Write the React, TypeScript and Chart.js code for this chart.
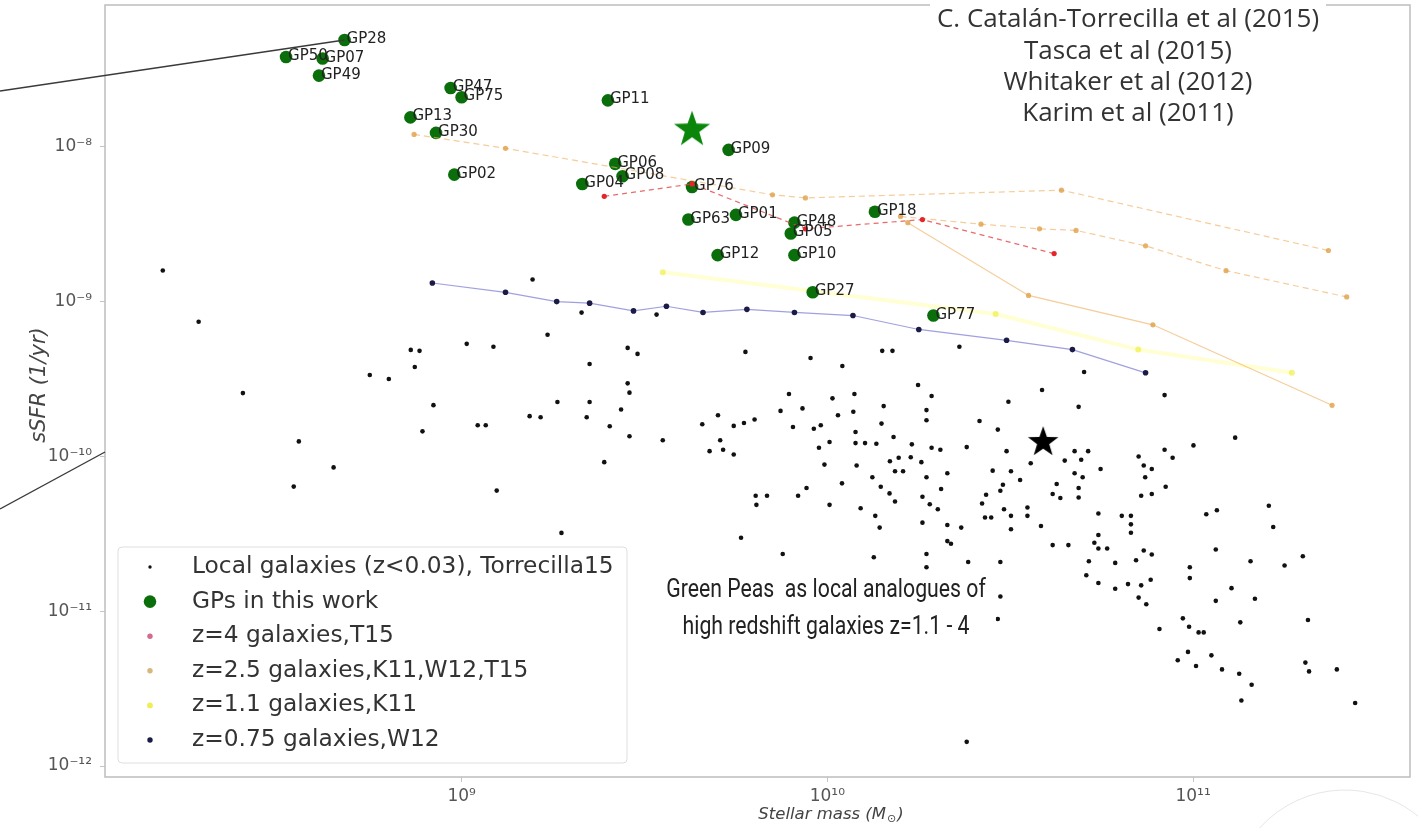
import React, { useEffect, useRef } from "react";
import { Chart, registerables } from "chart.js";

Chart.register(...registerables);

// ---------- axes (values are log10 of the physical quantities) ----------
const xMin = 8.025;
const xMax = 11.593;
const yMin = -12.071;
const yMax = -7.084;
const xTickValues = [9, 10, 11];
const xTickLabels = ["10⁹", "10¹⁰", "10¹¹"];
const yTickValues = [-12, -11, -10, -9, -8];
const yTickLabels = ["10⁻¹²", "10⁻¹¹", "10⁻¹⁰", "10⁻⁹", "10⁻⁸"];

// ---------- Green Peas (log10 M*, log10 sSFR) ----------
const gpNames = ["GP28", "GP50", "GP07", "GP49", "GP47", "GP75", "GP13", "GP30", "GP02", "GP11", "GP09", "GP06", "GP08", "GP04", "GP76", "GP63", "GP01", "GP48", "GP05", "GP12", "GP10", "GP18", "GP27", "GP77"];
const gpLogMass = [8.68, 8.52, 8.62, 8.61, 8.97, 9.0, 8.86, 8.93, 8.98, 9.4, 9.73, 9.42, 9.44, 9.33, 9.63, 9.62, 9.75, 9.91, 9.9, 9.7, 9.91, 10.13, 9.96, 10.29];
const gpLogSSFR = [-7.31, -7.42, -7.43, -7.54, -7.62, -7.68, -7.81, -7.91, -8.18, -7.7, -8.02, -8.11, -8.19, -8.24, -8.26, -8.47, -8.44, -8.49, -8.56, -8.7, -8.7, -8.42, -8.94, -9.09];

// stars
const greenStarLogMass = [9.63];
const greenStarLogSSFR = [-7.88];
const blackStarLogMass = [10.59];
const blackStarLogSSFR = [-9.9];

// z=4 galaxies (Tasca 2015)
const z4LogMass = [9.39, 9.63, 9.94, 10.26, 10.62];
const z4LogSSFR = [-8.32, -8.24, -8.53, -8.47, -8.69];

// z=2.5 galaxies (three relations)
const z25aLogMass = [8.87, 9.12, 9.85, 9.94, 10.64, 11.37];
const z25aLogSSFR = [-7.92, -8.01, -8.31, -8.33, -8.28, -8.67];
const z25bLogMass = [10.2, 10.42, 10.58, 10.68, 10.87, 11.09, 11.42];
const z25bLogSSFR = [-8.45, -8.5, -8.53, -8.54, -8.64, -8.8, -8.97];
const z25cLogMass = [10.22, 10.55, 10.89, 11.38];
const z25cLogSSFR = [-8.49, -8.96, -9.15, -9.67];

// z=1.1 galaxies (Karim 2011)
const z11LogMass = [9.55, 10.46, 10.85, 11.27];
const z11LogSSFR = [-8.81, -9.08, -9.31, -9.46];

// z=0.75 galaxies (Whitaker 2012)
const z075LogMass = [8.92, 9.12, 9.26, 9.35, 9.47, 9.56, 9.66, 9.78, 9.91, 10.07, 10.25, 10.49, 10.67, 10.87];
const z075LogSSFR = [-8.88, -8.94, -9.0, -9.01, -9.06, -9.03, -9.07, -9.05, -9.07, -9.09, -9.18, -9.25, -9.31, -9.46];

// local galaxies (log10 M*, log10 sSFR)
const localGalaxies: [number, number][] = [
  [8.183, -8.799], [8.281, -9.13], [8.402, -9.591], [8.555, -9.903], [8.541, -10.195], [8.65, -10.071],
  [8.749, -9.474], [8.801, -9.5], [8.861, -9.312], [8.885, -9.318], [8.872, -9.422], [8.923, -9.669],
  [8.893, -9.838], [9.014, -9.273], [9.044, -9.799], [9.066, -9.799], [9.087, -9.292], [9.096, -10.221],
  [9.186, -9.74], [9.216, -9.747], [9.235, -9.214], [9.262, -9.649], [9.273, -10.494], [9.328, -9.071],
  [9.35, -9.649], [9.35, -9.403], [9.342, -9.747], [9.454, -9.299], [9.481, -9.338], [9.533, -9.084],
  [9.194, -8.857], [9.776, -9.325], [9.954, -9.364], [10.041, -9.416], [10.15, -9.318], [10.178, -9.318],
  [10.361, -9.292], [10.702, -9.455],
  [9.454, -9.528], [9.459, -9.588], [9.436, -9.697], [9.405, -9.805], [9.459, -9.87], [9.55, -9.896],
  [9.39, -10.037], [10.248, -9.539], [10.285, -9.61], [10.271, -9.701], [10.271, -9.766], [10.154, -9.675],
  [10.074, -9.597], [10.014, -9.625], [10.071, -9.712], [10.029, -9.734], [9.932, -9.69], [9.872, -9.706],
  [9.895, -9.597], [9.801, -9.762], [9.772, -9.784], [9.744, -9.803], [9.701, -9.734], [9.658, -9.792],
  [9.707, -9.896], [9.678, -9.966], [9.715, -9.957], [9.744, -9.988], [9.906, -9.81], [9.963, -9.821],
  [9.982, -9.799], [10.006, -9.907], [9.977, -9.944], [9.992, -10.053], [10.077, -9.842], [10.077, -9.914],
  [10.103, -9.914], [10.134, -9.918], [10.181, -9.875], [10.231, -9.922], [10.285, -9.944], [10.309, -9.957],
  [10.381, -9.94], [10.171, -10.031], [10.195, -10.009], [10.228, -10.005], [10.257, -10.037], [10.148, -9.788],
  [10.416, -9.771], [10.466, -9.827], [10.495, -9.647], [10.587, -9.571], [10.687, -9.68], [10.922, -9.604],
  [11.115, -9.879], [11.001, -9.929], [10.922, -9.957], [10.944, -10.009], [10.851, -10.001], [10.865, -10.059],
  [10.887, -10.081], [10.869, -10.135], [10.676, -9.966], [10.713, -9.966], [10.694, -10.022], [10.649, -10.027],
  [10.747, -10.081], [10.556, -10.044], [10.49, -9.966], [10.676, -10.109], [10.698, -10.135], [10.08, -10.059],
  [10.123, -10.135], [10.185, -10.096], [10.207, -10.096], [10.271, -10.135], [10.328, -10.109], [10.452, -10.092],
  [10.502, -10.096], [10.527, -10.152], [10.04, -10.174], [9.943, -10.204], [9.92, -10.254], [9.804, -10.254],
  [9.835, -10.254], [9.806, -10.313], [10.006, -10.313], [10.091, -10.335], [10.146, -10.196], [10.17, -10.239],
  [10.185, -10.291], [10.26, -10.261], [10.28, -10.309], [10.302, -10.341], [10.311, -10.211], [10.423, -10.304],
  [10.434, -10.248], [10.483, -10.341], [10.502, -10.384], [10.547, -10.33], [10.547, -10.384], [10.48, -10.183],
  [10.473, -10.222], [10.616, -10.243], [10.637, -10.269], [10.627, -10.178], [10.687, -10.204], [10.687, -10.265],
  [10.858, -10.254], [10.887, -10.243], [10.925, -10.196], [10.741, -10.369], [10.805, -10.384], [10.83, -10.384],
  [10.83, -10.439], [10.83, -10.493], [10.741, -10.508], [10.131, -10.384], [10.143, -10.46], [10.26, -10.428],
  [10.328, -10.443], [10.366, -10.46], [10.431, -10.395], [10.448, -10.395], [10.502, -10.471], [10.584, -10.45],
  [11.036, -10.374], [11.065, -10.348], [11.207, -10.319], [11.219, -10.456], [9.764, -10.525], [9.878, -10.63],
  [10.127, -10.651], [10.271, -10.63], [10.271, -10.716], [10.328, -10.547], [10.338, -10.564], [10.385, -10.682],
  [10.473, -10.682], [10.616, -10.573], [10.659, -10.573], [10.73, -10.558], [10.741, -10.595], [10.765, -10.595],
  [10.715, -10.677], [10.787, -10.688], [10.844, -10.671], [10.865, -10.608], [10.887, -10.634], [10.991, -10.716],
  [10.991, -10.786], [11.062, -10.601], [11.157, -10.677], [11.25, -10.705], [11.3, -10.645], [10.708, -10.768],
  [10.741, -10.818], [10.787, -10.855], [10.822, -10.825], [10.858, -10.833], [10.884, -10.797], [10.851, -10.912],
  [10.872, -10.955], [11.105, -10.851], [11.062, -10.933], [11.169, -10.92], [10.473, -10.905], [9.675, -10.985],
  [10.466, -11.05], [10.163, -11.068], [10.291, -11.079], [11.129, -11.072], [10.972, -11.046], [10.989, -11.1],
  [11.015, -11.137], [11.029, -11.137], [10.908, -11.115], [11.314, -11.057], [10.958, -11.317], [10.986, -11.263],
  [11.008, -11.354], [11.05, -11.285], [11.079, -11.376], [11.126, -11.404], [11.16, -11.475], [11.307, -11.332],
  [11.317, -11.389], [11.393, -11.376], [11.132, -11.577], [11.443, -11.593], [10.381, -11.844],
];

const legendLabels = [
  "Local galaxies (z<0.03), Torrecilla15",
  "GPs in this work",
  "z=4 galaxies,T15",
  "z=2.5 galaxies,K11,W12,T15",
  "z=1.1 galaxies,K11",
  "z=0.75 galaxies,W12",
];
const referenceLines = ["C. Catalán-Torrecilla et al (2015)", "Tasca et al (2015)", "Whitaker et al (2012)", "Karim et al (2011)"];
const noteLines = ["Green Peas  as local analogues of", "high redshift galaxies z=1.1 - 4"];

// ---------- styles ----------
const C_LOCAL = "#111111";
const C_GP = "#0a6f0a";
const C_GREEN_STAR = "#0b860b";
const C_Z4 = "#e2262b";
const C_Z4_LINE = "rgba(226,70,70,0.8)";
const C_Z25 = "rgba(224,160,72,0.8)";
const C_Z25_LINE = "rgba(240,178,100,0.65)";
const C_Z11 = "rgba(238,238,60,0.65)";
const C_Z11_LINE = "rgba(255,255,110,0.3)";
const C_Z075 = "#1b1b47";
const C_Z075_LINE = "rgba(120,120,210,0.7)";
const legendColors = [C_LOCAL, C_GP, "rgba(200,70,110,0.8)", "rgba(210,175,110,0.9)", "rgba(236,236,70,0.9)", C_Z075];
const legendRadii = [1.7, 6.3, 2.7, 2.7, 2.9, 2.7];

const FONT = '"DejaVu Sans", sans-serif';

function makeStar(size: number, color: string): HTMLCanvasElement {
  const c = document.createElement("canvas");
  c.width = size;
  c.height = size;
  const g = c.getContext("2d")!;
  const cx = size / 2;
  const cy = size / 2 + size * 0.04;
  const R = size / 2;
  const r = R * 0.4;
  g.beginPath();
  for (let i = 0; i < 10; i++) {
    const a = -Math.PI / 2 + (i * Math.PI) / 5;
    const rad = i % 2 === 0 ? R : r;
    g.lineTo(cx + rad * Math.cos(a), cy + rad * Math.sin(a));
  }
  g.closePath();
  g.fillStyle = color;
  g.fill();
  return c;
}

const toPts = (ms: number[], ss: number[]) => ms.map((m, i) => ({ x: m, y: ss[i] }));

const overlay = {
  id: "overlay",
  afterDatasetsDraw(chart: any) {
    const { ctx, chartArea: a, scales } = chart;
    const xs = scales.x;
    const ys = scales.y;
    ctx.save();

    // frame
    ctx.strokeStyle = "#bdbdbd";
    ctx.lineWidth = 1.5;
    ctx.strokeRect(a.left, a.top, a.right - a.left, a.bottom - a.top);

    // GP labels
    ctx.font = `15px ${FONT}`;
    ctx.fillStyle = "#222";
    ctx.textAlign = "left";
    ctx.textBaseline = "alphabetic";
    gpNames.forEach((n, i) => {
      ctx.fillText(n, xs.getPixelForValue(gpLogMass[i]) + 2, ys.getPixelForValue(gpLogSSFR[i]) + 3);
    });

    // legend
    const lx = a.left + 13;
    const ly = 547;
    const lw = 509;
    const lh = 216;
    ctx.beginPath();
    (ctx as any).roundRect(lx, ly, lw, lh, 4);
    ctx.fillStyle = "rgba(255,255,255,0.85)";
    ctx.fill();
    ctx.strokeStyle = "#dedede";
    ctx.lineWidth = 1;
    ctx.stroke();
    ctx.font = `23.3px ${FONT}`;
    ctx.textBaseline = "middle";
    legendLabels.forEach((t, i) => {
      const yy = ly + 20 + i * 34.6;
      ctx.beginPath();
      ctx.arc(lx + 32, yy, legendRadii[i], 0, Math.PI * 2);
      ctx.fillStyle = legendColors[i];
      ctx.fill();
      ctx.fillStyle = "#333";
      ctx.fillText(t, lx + 74, yy);
    });

    // reference block (top right)
    ctx.fillStyle = "#fff";
    ctx.fillRect(930, 0, 396, 128);
    ctx.fillStyle = "#333";
    ctx.font = '26px "Open Sans", sans-serif';
    ctx.textAlign = "center";
    referenceLines.forEach((t, i) => ctx.fillText(t, 1128, 20 + i * 31.3));

    // note block
    ctx.font = '25px Roboto, sans-serif';
    const nw = Math.max(...noteLines.map((t) => ctx.measureText(t).width)) * 0.85;
    const ncx = 826;
    ctx.fillStyle = "#fff";
    ctx.fillRect(ncx - nw / 2 - 10, 570, nw + 20, 80);
    ctx.fillStyle = "#222";
    noteLines.forEach((t, i) => {
      ctx.save();
      ctx.translate(ncx, 591 + i * 37);
      ctx.scale(0.85, 1);
      ctx.fillText(t, 0, 0);
      ctx.restore();
    });

    // axis titles
    ctx.fillStyle = "#444";
    ctx.font = `italic 21px ${FONT}`;
    ctx.save();
    ctx.translate(40, 385);
    ctx.rotate(-Math.PI / 2);
    ctx.fillText("sSFR (1/yr)", 0, 0);
    ctx.restore();
    const p1 = "Stellar mass (M";
    const p2 = "⊙";
    const p3 = ")";
    const big = `italic 16.5px ${FONT}`;
    const small = `11px ${FONT}`;
    ctx.font = big;
    const w1 = ctx.measureText(p1).width;
    const w3 = ctx.measureText(p3).width;
    ctx.font = small;
    const w2 = ctx.measureText(p2).width;
    const total = w1 + w2 + w3 + 2;
    const cx0 = 831 - total / 2;
    const ty = 815;
    ctx.textAlign = "left";
    ctx.font = big;
    ctx.fillText(p1, cx0, ty);
    ctx.font = small;
    ctx.fillText(p2, cx0 + w1 + 1, ty + 4);
    ctx.font = big;
    ctx.fillText(p3, cx0 + w1 + w2 + 2, ty);

    // decorative zoom lines
    ctx.strokeStyle = "#3a3a3a";
    ctx.lineWidth = 1.4;
    ctx.beginPath();
    ctx.moveTo(0, 91);
    ctx.lineTo(xs.getPixelForValue(gpLogMass[0]), ys.getPixelForValue(gpLogSSFR[0]));
    ctx.stroke();
    ctx.beginPath();
    ctx.moveTo(0, 509);
    ctx.lineTo(a.left, 452);
    ctx.stroke();

    // faint circle outline at bottom right
    ctx.strokeStyle = "rgba(200,200,200,0.45)";
    ctx.lineWidth = 1;
    ctx.beginPath();
    ctx.arc(1345, 905, 115, Math.PI * 1.05, Math.PI * 1.95);
    ctx.stroke();

    ctx.restore();
  },
};

const zeroPad = (s: any) => {
  s.paddingTop = 0;
  s.paddingBottom = 0;
  s.paddingLeft = 0;
  s.paddingRight = 0;
};

export default function App() {
  const ref = useRef<HTMLCanvasElement>(null);
  useEffect(() => {
    document.body.style.margin = "0";
    const canvas = ref.current!;
    const greenStar = makeStar(38, C_GREEN_STAR);
    const blackStar = makeStar(32, "#000");
    const line = (data: any, color: string, lineColor: string, r: number, order: number, dash: number[] = [], bw = 1.2) => ({
      data,
      showLine: true,
      borderColor: lineColor,
      borderWidth: bw,
      borderDash: dash,
      pointBackgroundColor: color,
      pointBorderWidth: 0,
      pointRadius: r,
      order,
    });
    const chart = new Chart(canvas, {
      type: "scatter",
      data: {
        datasets: [
          { data: toPts(blackStarLogMass, blackStarLogSSFR), pointStyle: blackStar as any, pointRadius: 16, pointBorderWidth: 0, order: 0 },
          { data: toPts(greenStarLogMass, greenStarLogSSFR), pointStyle: greenStar as any, pointRadius: 19, pointBorderWidth: 0, order: 1 },
          line(toPts(z4LogMass, z4LogSSFR), C_Z4, C_Z4_LINE, 2.6, 2, [5, 4]),
          line(toPts(z25aLogMass, z25aLogSSFR), C_Z25, C_Z25_LINE, 2.6, 3, [6, 4]),
          line(toPts(z25bLogMass, z25bLogSSFR), C_Z25, C_Z25_LINE, 2.6, 3, [6, 4]),
          line(toPts(z25cLogMass, z25cLogSSFR), C_Z25, C_Z25_LINE, 2.6, 3),
          {
            data: toPts(gpLogMass, gpLogSSFR),
            pointBackgroundColor: C_GP,
            pointBorderWidth: 0,
            pointRadius: 6.3,
            order: 5,
          },
          line(toPts(z075LogMass, z075LogSSFR), C_Z075, C_Z075_LINE, 2.8, 6),
          line(toPts(z11LogMass, z11LogSSFR), C_Z11, C_Z11_LINE, 3, 7, [], 4),
          {
            data: localGalaxies.map(([m, s]) => ({ x: m, y: s })),
            pointBackgroundColor: C_LOCAL,
            pointBorderWidth: 0,
            pointRadius: 2.3,
            order: 8,
          },
        ] as any,
      },
      options: {
        animation: false,
        responsive: false,
        maintainAspectRatio: false,
        events: [],
        layout: { autoPadding: false, padding: { left: 0, right: 8, top: 5, bottom: 0 } },
        plugins: { legend: { display: false }, tooltip: { enabled: false }, title: { display: false } },
        scales: {
          x: {
            type: "linear",
            min: xMin,
            max: xMax,
            afterFit: (s: any) => {
              s.height = 51;
              zeroPad(s);
            },
            afterBuildTicks: (s: any) => {
              s.ticks = xTickValues.map((v) => ({ value: v }));
            },
            ticks: {
              autoSkip: false,
              maxRotation: 0,
              padding: 4,
              color: "#555",
              font: { family: "DejaVu Sans", size: 17 },
              callback: (v: any) => xTickLabels[xTickValues.indexOf(Number(v))] ?? "",
            },
            grid: { display: true, drawOnChartArea: false, drawTicks: true, tickLength: 5, color: "#c4c4c4" },
            border: { display: false },
          },
          y: {
            type: "linear",
            min: yMin,
            max: yMax,
            afterFit: (s: any) => {
              s.width = 105;
              zeroPad(s);
            },
            afterBuildTicks: (s: any) => {
              s.ticks = yTickValues.map((v) => ({ value: v }));
            },
            ticks: {
              autoSkip: false,
              padding: 8,
              color: "#555",
              font: { family: "DejaVu Sans", size: 17 },
              callback: (v: any) => yTickLabels[yTickValues.indexOf(Number(v))] ?? "",
            },
            grid: { display: true, drawOnChartArea: false, drawTicks: true, tickLength: 5, color: "#c4c4c4" },
            border: { display: false },
          },
        },
      } as any,
      plugins: [overlay],
    });
    return () => chart.destroy();
  }, []);
  return (
    <div style={{ width: 1418, height: 828, background: "#fff" }}>
      <canvas ref={ref} width={1418} height={828} style={{ display: "block", width: 1418, height: 828 }} />
    </div>
  );
}
